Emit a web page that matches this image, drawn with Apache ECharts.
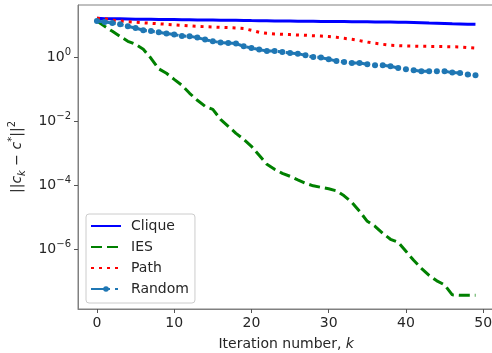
<!DOCTYPE html>
<html>
<head>
<meta charset="utf-8">
<script src="https://cdn.jsdelivr.net/npm/echarts@6/dist/echarts.min.js"></script>
<style>
html,body{margin:0;padding:0;background:#fff;}
#chart{width:492px;height:353px;}
</style>
</head>
<body>
<div id="chart"></div>
<script>
const iterations = [0,1,2,3,4,5,6,7,8,9,10,11,12,13,14,15,16,17,18,19,20,21,22,23,24,25,26,27,28,29,30,31,32,33,34,35,36,37,38,39,40,41,42,43,44,45,46,47,48,49];
const cliqueValues = [17.0,16.5,16.4,16.3,16.15,16.0,15.9,15.8,15.7,15.6,15.5,15.4,15.25,15.1,15.0,14.9,14.8,14.7,14.7,14.6,14.4,14.3,14.2,14.1,14.0,13.9,13.8,13.7,13.7,13.6,13.5,13.4,13.4,13.3,13.3,13.2,13.1,13.0,12.9,12.8,12.7,12.5,12.3,12.0,11.8,11.6,11.4,11.3,11.1,11.0];
const iesValues = [13.98,9.54,6.66,4.64,3.24,2.61,1.82,0.951,0.446,0.323,0.209,0.136,0.0763,0.0461,0.0299,0.0241,0.01172,0.00708,0.00427,0.00277,0.001674,0.000875,0.000457,0.000319,0.000239,0.000193,0.0001497,0.0001163,9.72e-5,8.72e-5,7.82e-5,6.78e-5,4.73e-5,2.96e-5,1.547e-5,7.52e-6,5.25e-6,3.17e-6,2.06e-6,1.656e-6,8.66e-7,4.52e-7,2.54e-7,1.535e-7,1.033e-7,7.74e-8,3.77e-8,3.63e-8,3.63e-8,3.63e-8];
const pathValues = [17.0,16.38,14.92,13.98,13.39,12.82,12.28,11.85,11.43,11.02,10.63,10.26,9.89,9.54,9.27,9.07,8.88,8.69,8.44,8.08,7.15,6.19,5.76,5.52,5.36,5.25,5.10,4.99,4.85,4.71,4.54,4.32,4.02,3.74,3.40,3.06,2.80,2.61,2.43,2.37,2.32,2.29,2.26,2.24,2.23,2.21,2.18,2.15,2.06,1.98];
const randomValues = [13.98,13.01,12.10,11.02,9.54,8.44,7.15,6.80,6.19,5.64,5.25,4.74,4.64,4.23,3.66,3.24,2.95,2.86,2.74,2.26,2.00,1.78,1.61,1.61,1.50,1.39,1.33,1.18,1.04,1.00,0.885,0.783,0.728,0.678,0.678,0.617,0.574,0.574,0.534,0.473,0.430,0.400,0.373,0.373,0.373,0.373,0.339,0.330,0.294,0.279];
const seriesNames = ['Clique','IES','Path','Random'];
const xTickValues = [0,10,20,30,40,50];
const yTickValues = [1e-6,1e-4,1e-2,1];

function pairs(vals){ return iterations.map((k,i)=>[k, vals[i]]); }

const chart = echarts.init(document.getElementById('chart'), null, {renderer:'canvas'});
const textColor = '#262626';
const font = 'DejaVu Sans';

chart.setOption({
  animation: false,
  backgroundColor: '#fff',
  grid: {left: 78, width: 416.4, top: 5, height: 304, show: true, borderColor: '#808080', borderWidth: 1, backgroundColor: 'transparent', containLabel: false, outerBoundsMode: 'none'},
  legend: {
    orient: 'vertical', left: 86, top: 214,
    padding: [5, 6, 7, 4],
    itemWidth: 30, itemHeight: 7, itemGap: 7,
    backgroundColor: 'rgba(255,255,255,0.8)', borderColor: '#cccccc', borderWidth: 1, borderRadius: 3,
    textStyle: {fontFamily: font, fontSize: 14, lineHeight: 14, color: textColor, padding: [0,0,0,5]},
    data: [
      {name: seriesNames[0], itemStyle: {color: 'rgba(0,0,0,0)'}},
      {name: seriesNames[1], itemStyle: {color: 'rgba(0,0,0,0)'}},
      {name: seriesNames[2], itemStyle: {color: 'rgba(0,0,0,0)'}},
      {name: seriesNames[3]}
    ]
  },
  xAxis: {
    type: 'value', min: -2.45, max: 51.45,
    name: 'Iteration number, {i|k}', nameLocation: 'middle', nameGap: 28,
    nameTextStyle: {fontFamily: font, fontSize: 14, color: textColor, rich: {i: {fontFamily: font, fontSize: 14, fontStyle: 'italic', color: textColor}}},
    axisLine: {show: true, onZero: false, lineStyle: {color: '#808080', width: 1}},
    axisTick: {show: true, length: 4, lineStyle: {color: '#555'}, customValues: xTickValues},
    axisLabel: {show: true, margin: 7, fontFamily: font, fontSize: 14, color: textColor, customValues: xTickValues},
    splitLine: {show: false}
  },
  yAxis: {
    type: 'log', logBase: 10, min: 1.355e-8, max: 44.3,
    name: '||{i|c}{sub|k} − {i|c}{sup|*}||{sup|2}', nameLocation: 'middle', nameGap: 41,
    nameTextStyle: {fontFamily: font, fontSize: 14, color: textColor, lineHeight: 20,
      rich: {
        i: {fontFamily: font, fontSize: 14, fontStyle: 'italic', color: textColor, lineHeight: 20},
        sub: {fontFamily: font, fontSize: 10, fontStyle: 'italic', color: textColor, verticalAlign: 'bottom', lineHeight: 12},
        sup: {fontFamily: font, fontSize: 10, color: textColor, verticalAlign: 'top', lineHeight: 10}
      }},
    axisLine: {show: true, onZero: false, lineStyle: {color: '#808080', width: 1}},
    axisTick: {show: true, length: 4, lineStyle: {color: '#555'}, customValues: yTickValues},
    axisLabel: {show: true, margin: 7, customValues: yTickValues,
      formatter: function(v){ const e = Math.round(Math.log10(v)); return '{b|10}{s|' + (e < 0 ? '−' + (-e) : String(e)) + '}'; },
      rich: {
        b: {fontFamily: font, fontSize: 14, color: textColor, lineHeight: 20},
        s: {fontFamily: font, fontSize: 10, color: textColor, verticalAlign: 'top', lineHeight: 12}
      }},
    splitLine: {show: false}
  },
  series: [
    {name: 'Clique', type: 'line', data: pairs(cliqueValues), showSymbol: false, symbol: 'none',
      lineStyle: {color: '#0000ff', width: 3, type: 'solid'}, itemStyle: {color: '#0000ff'}},
    {name: 'IES', type: 'line', data: pairs(iesValues), showSymbol: false, symbol: 'none',
      lineStyle: {color: '#008000', width: 3, type: [11, 5]}, itemStyle: {color: '#008000'}},
    {name: 'Path', type: 'line', data: pairs(pathValues), showSymbol: false, symbol: 'none',
      lineStyle: {color: '#ff0000', width: 3, type: [3, 5]}, itemStyle: {color: '#ff0000'}},
    {name: 'Random', type: 'line', data: pairs(randomValues), symbol: 'circle', symbolSize: 6, showSymbol: true,
      lineStyle: {color: '#1f77b4', width: 3, type: [19, 5, 3, 5]}, itemStyle: {color: '#1f77b4', borderWidth: 0}}
  ]
});
</script>
</body>
</html>
